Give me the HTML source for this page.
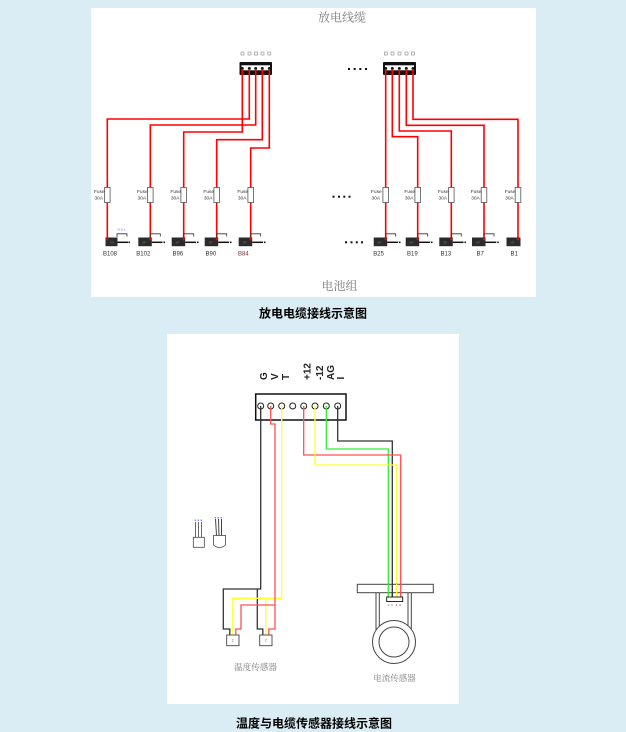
<!DOCTYPE html>
<html>
<head>
<meta charset="utf-8">
<style>
  html,body{margin:0;padding:0;background:#dbedf4;}
  body{width:626px;height:732px;overflow:hidden;}
  svg{display:block;}
  .cap{font-family:"Liberation Sans","Noto Sans CJK SC",sans-serif;font-weight:bold;font-size:12px;fill:#000;}
  .gs{font-family:"Liberation Serif","Noto Serif CJK SC",serif;fill:#7a7a7a;}
  .sm{font-family:"Liberation Sans",sans-serif;fill:#333;}
  .lb{font-family:"Liberation Sans",sans-serif;font-size:10px;font-weight:bold;fill:#222;}
</style>
</head>
<body>
<svg width="626" height="732" viewBox="0 0 626 732" xmlns="http://www.w3.org/2000/svg">
  <rect x="0" y="0" width="626" height="732" fill="#dbedf4"/>

  <!-- ================= TOP PANEL ================= -->
  <rect x="91" y="8" width="445" height="289" fill="#ffffff"/>
  <text class="gs" x="318" y="21.5" font-size="12">放电线缆</text>
  <text class="gs" x="321.5" y="290" font-size="12">电池组</text>

  <!-- connector labels (tiny) -->
  <g fill="none" stroke="#888" stroke-width="0.6">
    <rect x="241" y="52" width="3" height="3"/><rect x="248" y="52" width="3" height="3"/><rect x="254.5" y="52" width="3" height="3"/><rect x="261" y="52" width="3" height="3"/><rect x="267.8" y="52" width="3" height="3"/>
    <rect x="384.3" y="52" width="3" height="3"/><rect x="391" y="52" width="3" height="3"/><rect x="398" y="52" width="3" height="3"/><rect x="405" y="52" width="3" height="3"/><rect x="411.5" y="52" width="3" height="3"/>
  </g>

  <!-- wires top -->
  <g fill="none" stroke="#ff0000" stroke-width="1.6">
    <path d="M249.3 69 V119 H107.3 V239"/>
    <path d="M255.7 69 V125 H150.3 V239"/>
    <path d="M242.3 69 V132 H183.7 V239"/>
    <path d="M262.3 69 V139.7 H216.7 V239"/>
    <path d="M269.3 69 V148 H250.7 V239"/>
    <path d="M385.7 69 V239"/>
    <path d="M392.3 69 V136.7 H417.7 V239"/>
    <path d="M399.3 69 V131 H451.3 V239"/>
    <path d="M406.3 69 V125.3 H484 V239"/>
    <path d="M413 69 V119.3 H518 V239"/>
  </g>

  <!-- connectors top -->
  <g>
    <rect x="239.5" y="62" width="32.5" height="13" rx="1" fill="#111"/>
    <rect x="241.5" y="65.3" width="28.5" height="5" fill="#fff"/>
    <g fill="#111"><circle cx="242.3" cy="68.5" r="1.5"/><circle cx="249.3" cy="68.5" r="1.5"/><circle cx="255.7" cy="68.5" r="1.5"/><circle cx="262.3" cy="68.5" r="1.5"/><circle cx="269.3" cy="68.5" r="1.5"/></g>
    <g stroke="#ff0000" stroke-width="1.6"><line x1="242.3" y1="69" x2="242.3" y2="75"/><line x1="249.3" y1="69" x2="249.3" y2="75"/><line x1="255.7" y1="69" x2="255.7" y2="75"/><line x1="262.3" y1="69" x2="262.3" y2="75"/><line x1="269.3" y1="69" x2="269.3" y2="75"/></g>

    <rect x="383" y="62" width="33" height="13" rx="1" fill="#111"/>
    <rect x="385" y="65.3" width="29" height="5" fill="#fff"/>
    <g fill="#111"><circle cx="385.7" cy="68.5" r="1.5"/><circle cx="392.3" cy="68.5" r="1.5"/><circle cx="399.3" cy="68.5" r="1.5"/><circle cx="406.3" cy="68.5" r="1.5"/><circle cx="413" cy="68.5" r="1.5"/></g>
    <g stroke="#ff0000" stroke-width="1.6"><line x1="385.7" y1="69" x2="385.7" y2="75"/><line x1="392.3" y1="69" x2="392.3" y2="75"/><line x1="399.3" y1="69" x2="399.3" y2="75"/><line x1="406.3" y1="69" x2="406.3" y2="75"/><line x1="413" y1="69" x2="413" y2="75"/></g>
  </g>

  <!-- dots -->
  <g fill="#111">
    <rect x="348" y="68" width="2" height="2"/><rect x="353.7" y="68" width="2" height="2"/><rect x="359.3" y="68" width="2" height="2"/><rect x="365" y="68" width="2" height="2"/>
    <rect x="332.5" y="195.7" width="2" height="2"/><rect x="338" y="195.7" width="2" height="2"/><rect x="343.3" y="195.7" width="2" height="2"/><rect x="348.5" y="195.7" width="2" height="2"/>
    <rect x="345" y="241.3" width="2" height="2"/><rect x="350.5" y="241.3" width="2" height="2"/><rect x="355.8" y="241.3" width="2" height="2"/><rect x="361" y="241.3" width="2" height="2"/>
  </g>

  <!-- fuses -->
  <g fill="#fff" stroke="#555" stroke-width="0.8">
    <rect x="104.5" y="187.5" width="5.6" height="15"/>
    <rect x="147.5" y="187.5" width="5.6" height="15"/>
    <rect x="180.9" y="187.5" width="5.6" height="15"/>
    <rect x="213.9" y="187.5" width="5.6" height="15"/>
    <rect x="247.9" y="187.5" width="5.6" height="15"/>
    <rect x="382.9" y="187.5" width="5.6" height="15"/>
    <rect x="414.9" y="187.5" width="5.6" height="15"/>
    <rect x="448.5" y="187.5" width="5.6" height="15"/>
    <rect x="481.2" y="187.5" width="5.6" height="15"/>
    <rect x="515.2" y="187.5" width="5.6" height="15"/>
  </g>
  <g class="sm" font-size="4.8">
    <text x="94" y="193.2">Fuse</text><text x="94.5" y="199.5">30A</text>
    <text x="137" y="193.2">Fuse</text><text x="137.5" y="199.5">30A</text>
    <text x="170.4" y="193.2">Fuse</text><text x="170.9" y="199.5">30A</text>
    <text x="203.4" y="193.2">Fuse</text><text x="203.9" y="199.5">30A</text>
    <text x="237.4" y="193.2">Fuse</text><text x="237.9" y="199.5">30A</text>
    <text x="371" y="193.2">Fuse</text><text x="371.5" y="199.5">30A</text>
    <text x="404.4" y="193.2">Fuse</text><text x="404.9" y="199.5">30A</text>
    <text x="438" y="193.2">Fuse</text><text x="438.5" y="199.5">30A</text>
    <text x="470.7" y="193.2">Fuse</text><text x="471.2" y="199.5">30A</text>
    <text x="504.7" y="193.2">Fuse</text><text x="505.2" y="199.5">30A</text>
  </g>

  <!-- batteries -->
  <g>
    <path d="M117 237 V233.8 H127 V236.5" fill="none" stroke="#333" stroke-width="0.8"/>
    <rect x="105.5" y="237.5" width="12" height="8.7" fill="#2b2b2b"/>
    <line x1="117.5" y1="242.3" x2="128" y2="242.3" stroke="#111" stroke-width="1.5"/>
    <rect x="128.5" y="241.5" width="1.5" height="1.6" fill="#111"/>
    <text x="117.5" y="231.2" font-size="3.2" fill="#7a7aff" font-family="Liberation Sans,sans-serif">R S L</text>
  </g>
  <g fill="#2b2b2b">
    <rect x="138.3" y="237.5" width="13.5" height="8.7"/>
    <rect x="171.7" y="237.5" width="13.5" height="8.7"/>
    <rect x="204.7" y="237.5" width="13.5" height="8.7"/>
    <rect x="238.7" y="237.5" width="13.5" height="8.7"/>
    <rect x="373.7" y="237.5" width="13.5" height="8.7"/>
    <rect x="405.7" y="237.5" width="13.5" height="8.7"/>
    <rect x="439.3" y="237.5" width="13.5" height="8.7"/>
    <rect x="472" y="237.5" width="13.5" height="8.7"/>
    <rect x="506.5" y="237.5" width="14" height="8.7"/>
  </g>
  <g fill="none" stroke="#333" stroke-width="0.8">
    <path d="M150.3 237 V233.8 H160.3 V236.5"/>
    <path d="M183.7 237 V233.8 H193.7 V236.5"/>
    <path d="M216.7 237 V233.8 H226.7 V236.5"/>
    <path d="M250.7 237 V233.8 H260.7 V236.5"/>
    <path d="M385.7 237 V233.8 H395.7 V236.5"/>
    <path d="M417.7 237 V233.8 H427.7 V236.5"/>
    <path d="M451.3 237 V233.8 H461.3 V236.5"/>
    <path d="M484 237 V233.8 H494 V236.5"/>
  </g>
  <g stroke="#111" stroke-width="1.5">
    <line x1="151.8" y1="242.3" x2="162.5" y2="242.3"/>
    <line x1="185.2" y1="242.3" x2="196" y2="242.3"/>
    <line x1="218.2" y1="242.3" x2="229" y2="242.3"/>
    <line x1="252.2" y1="242.3" x2="263" y2="242.3"/>
    <line x1="387.2" y1="242.3" x2="398" y2="242.3"/>
    <line x1="419.2" y1="242.3" x2="430" y2="242.3"/>
    <line x1="452.8" y1="242.3" x2="463.5" y2="242.3"/>
    <line x1="485.5" y1="242.3" x2="496.3" y2="242.3"/>
  </g>
  <g fill="#111">
    <rect x="163.5" y="241.5" width="1.5" height="1.6"/>
    <rect x="197" y="241.5" width="1.5" height="1.6"/>
    <rect x="230" y="241.5" width="1.5" height="1.6"/>
    <rect x="264" y="241.5" width="1.5" height="1.6"/>
    <rect x="399" y="241.5" width="1.5" height="1.6"/>
    <rect x="431" y="241.5" width="1.5" height="1.6"/>
    <rect x="464.5" y="241.5" width="1.5" height="1.6"/>
    <rect x="497.3" y="241.5" width="1.5" height="1.6"/>
  </g>
  <g fill="#ff0000">
    <circle cx="107.3" cy="239.3" r="1.2"/>
    <circle cx="150.3" cy="239.3" r="1.2"/>
    <circle cx="183.7" cy="239.3" r="1.2"/>
    <circle cx="216.7" cy="239.3" r="1.2"/>
    <circle cx="250.7" cy="239.3" r="1.2"/>
    <circle cx="385.7" cy="239.3" r="1.2"/>
    <circle cx="417.7" cy="239.3" r="1.2"/>
    <circle cx="451.3" cy="239.3" r="1.2"/>
    <circle cx="484" cy="239.3" r="1.2"/>
    <circle cx="518" cy="239.3" r="1.2"/>
  </g>
  <g font-family="Liberation Sans,sans-serif" font-size="3" fill="#777">
    <text x="110" y="243.5">SP</text><text x="142" y="243.5">SP</text><text x="175.5" y="243.5">SP</text><text x="208.5" y="243.5">SP</text><text x="242.5" y="243.5">SP</text>
    <text x="377.5" y="243.5">SP</text><text x="409.5" y="243.5">SP</text><text x="443" y="243.5">SP</text><text x="476" y="243.5">SP</text><text x="510.5" y="243.5">SP</text>
  </g>
  <g class="sm" font-size="6">
    <text x="103" y="255.7">B108</text>
    <text x="136.3" y="255.7">B102</text>
    <text x="172.5" y="255.7">B96</text>
    <text x="205.5" y="255.7">B90</text>
    <text x="238" y="255.7" fill="#7a3030">B84</text>
    <text x="373.3" y="255.7">B25</text>
    <text x="407" y="255.7">B19</text>
    <text x="440.5" y="255.7">B13</text>
    <text x="476.5" y="255.7">B7</text>
    <text x="510.5" y="255.7">B1</text>
  </g>

  <text class="cap" x="259" y="317.5">放电电缆接线示意图</text>

  <!-- ================= BOTTOM PANEL ================= -->
  <rect x="167" y="334" width="292" height="370" fill="#ffffff"/>

  <!-- rotated labels -->
  <g class="lb">
    <text transform="translate(267,380) rotate(-90)">G</text>
    <text transform="translate(278,380) rotate(-90)">V</text>
    <text transform="translate(289,380) rotate(-90)">T</text>
    <text transform="translate(310.5,380) rotate(-90)">+12</text>
    <text transform="translate(323,380) rotate(-90)">-12</text>
    <text transform="translate(334,380) rotate(-90)">AG</text>
    <text transform="translate(344,379.5) rotate(-90)">I</text>
  </g>

  <!-- connector -->
  <rect x="255.7" y="394" width="90.3" height="26" fill="#fff" stroke="#111" stroke-width="1.5"/>
  <g fill="#fff" stroke="#222" stroke-width="1">
    <circle cx="260.7" cy="406" r="3"/><circle cx="270.7" cy="406" r="3"/><circle cx="281.7" cy="406" r="3"/><circle cx="292.7" cy="406" r="3"/>
    <circle cx="303.7" cy="406" r="3"/><circle cx="315" cy="406" r="3"/><circle cx="326.3" cy="406" r="3"/><circle cx="337.7" cy="406" r="3"/>
  </g>

  <!-- wires bottom -->
  <g fill="none" stroke-width="1.3">
    <path d="M260.7 406 V589 H223.3 V629 H229.8 V635" stroke="#333"/>
    <path d="M257.3 589 V629 H262.8 V635" stroke="#333"/>
    <path d="M281.7 406 V598.3 H232.8 V635" stroke="#ffff33"/>
    <path d="M265.8 598.3 V635" stroke="#ffff33"/>
    <path d="M270.7 406 V424 H275 V629 H268.8 V635" stroke="#ff5050"/>
    <path d="M275 605 H241 V629 H235.8 V635" stroke="#ff5050"/>
    <path d="M337.7 406 V441 H392.3 V598.5" stroke="#333"/>
    <path d="M326.3 406 V449 H388.3 V598.5" stroke="#33ee33"/>
    <path d="M303.7 406 V455 H400.7 V598.5" stroke="#ff5050"/>
    <path d="M315 406 V465 H396.7 V598.5" stroke="#ffff33"/>
  </g>

  <!-- temperature sensors -->
  <g fill="#fff" stroke="#444" stroke-width="0.9">
    <rect x="226.7" y="635" width="12.3" height="10.7"/>
    <rect x="259.7" y="635" width="12.3" height="10.7"/>
  </g>
  <g font-family="Liberation Sans,sans-serif" font-size="3.5" fill="#666">
    <text x="231.7" y="641.7">2</text>
    <text x="264.7" y="641.7">2</text>
  </g>

  <!-- small transistor icons -->
  <g fill="none" stroke="#444" stroke-width="0.8">
    <rect x="193.3" y="537.3" width="11" height="10"/>
    <line x1="195.5" y1="522" x2="195.5" y2="537.3"/>
    <line x1="198.5" y1="522" x2="198.5" y2="537.3"/>
    <line x1="201.5" y1="522" x2="201.5" y2="537.3"/>
    <path d="M213.5 535.5 H225.5 V545 Q219.5 550 213.5 545 Z"/>
    <path d="M215.5 519 L216.5 535.5 M218.5 519 L219 535.5 M221.5 519 L221.5 535.5" stroke-width="1"/>
  </g>
  <g fill="#8888ff">
    <rect x="194.5" y="519.5" width="1.5" height="1.5"/><rect x="197.5" y="519.5" width="1.5" height="1.5"/><rect x="200.5" y="519.5" width="1.5" height="1.5"/>
    <rect x="214.5" y="517" width="1.5" height="1.5"/><rect x="217.5" y="517" width="1.5" height="1.5"/><rect x="220.5" y="517" width="1.5" height="1.5"/>
  </g>

  <!-- current sensor -->
  <g fill="none" stroke="#444" stroke-width="1">
    <path d="M376 592.7 V632"/>
    <path d="M379.3 592.7 V632"/>
    <path d="M408 592.7 V632"/>
    <path d="M411.3 592.7 V632"/>
  </g>
  <rect x="357.3" y="584.3" width="76" height="8.4" fill="#fff" stroke="#444" stroke-width="1"/>
  <circle cx="394" cy="642" r="21.5" fill="#fff" stroke="#444" stroke-width="1"/>
  <circle cx="394" cy="642" r="15" fill="#fff" stroke="#444" stroke-width="1"/>
  <g fill="none" stroke-width="1.3">
    <line x1="388.3" y1="584" x2="388.3" y2="598.5" stroke="#33ee33"/>
    <line x1="392.3" y1="584" x2="392.3" y2="598.5" stroke="#333"/>
    <line x1="396.7" y1="584" x2="396.7" y2="598.5" stroke="#ffff33"/>
    <line x1="400.7" y1="584" x2="400.7" y2="598.5" stroke="#ff5050"/>
  </g>
  <rect x="386.7" y="597" width="16" height="4.5" fill="#fff" stroke="#111" stroke-width="0.9"/>
  <g fill="#888">
    <rect x="388" y="604.5" width="1.2" height="1.2"/><rect x="391.5" y="604.5" width="1.2" height="1.2"/>
    <rect x="396" y="604.5" width="1.2" height="1.2" fill="#c44"/><rect x="399.5" y="604.5" width="1.2" height="1.2" fill="#c44"/>
  </g>

  <text class="gs" x="234" y="670" font-size="8.6">温度传感器</text>
  <text class="gs" x="373.3" y="681" font-size="8.5">电流传感器</text>

  <text class="cap" x="236" y="727.5" font-size="11.85">温度与电缆传感器接线示意图</text>
</svg>
</body>
</html>
